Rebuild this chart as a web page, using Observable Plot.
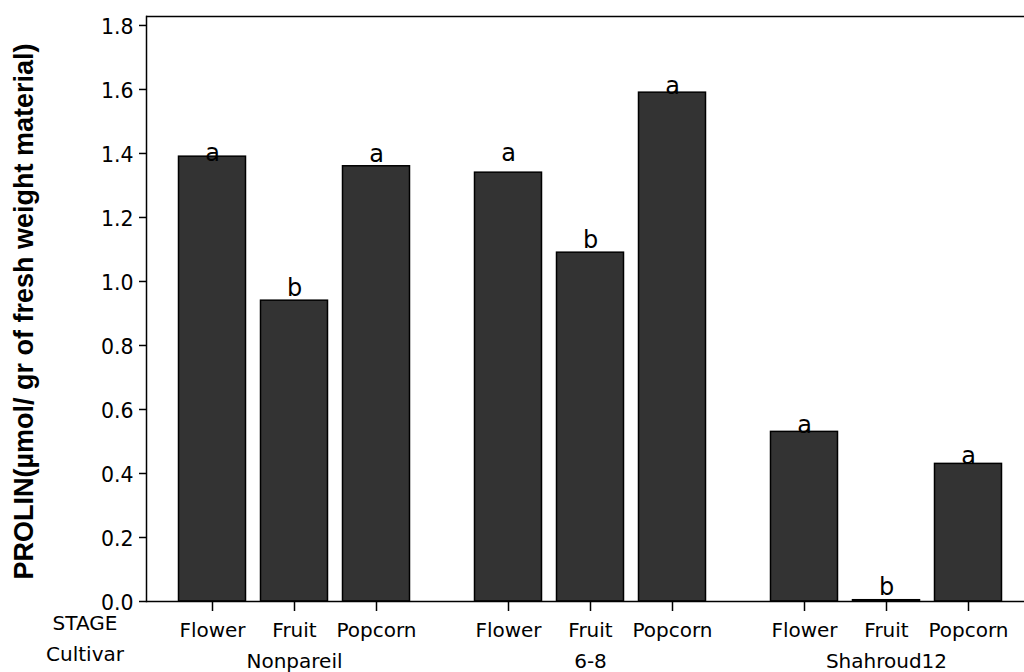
<!DOCTYPE html>
<html><head><meta charset="utf-8">
<script src="https://cdn.jsdelivr.net/npm/d3@7"></script>
<script src="https://cdn.jsdelivr.net/npm/@observablehq/plot@0.6"></script>
<style>body{margin:0;background:#fff;overflow:hidden}</style>
</head><body><div id="chart"></div>
<script>
const cultivars = ["Nonpareil", "6-8", "Shahroud12"];
const stages = ["Flower", "Fruit", "Popcorn"];
const proline = [[1.39, 0.94, 1.36], [1.34, 1.09, 1.59], [0.53, 0.004, 0.43]];
const letters = [["a", "b", "a"], ["a", "b", "a"], ["a", "b", "a"]];
const letterY = [[1.377, 0.954, 1.373], [1.376, 1.105, 1.587], [0.525, 0.019, 0.431]];
const yTicks = [0, 0.2, 0.4, 0.6, 0.8, 1.0, 1.2, 1.4, 1.6, 1.8];
const yMax = 1.828;
const rowLabels = ["STAGE", "Cultivar"];
const yLabel = "PROLIN(µmol/ gr of fresh weight material)";

const data = cultivars.flatMap((c, i) => stages.map((s, j) => ({
  cultivar: c, stage: s, value: proline[i][j], letter: letters[i][j], ly: letterY[i][j]
})));

const first = () => cultivars[0];
const font = "DejaVu Sans, Verdana, sans-serif";
const chart = Plot.plot({
  width: 1024, height: 672,
  marginLeft: 145.5, marginRight: -10.5, marginTop: 16, marginBottom: 71,
  style: {fontFamily: font, fontSize: "20px", color: "#000", background: "#fff"},
  fx: {domain: cultivars, padding: 0},
  x: {domain: stages, paddingInner: 0.186, paddingOuter: 0.394},
  y: {domain: [0, yMax]},
  marks: [
    Plot.barY(data, {fx: "cultivar", x: "stage", y: "value", fill: "#333333", stroke: "#000", strokeWidth: 1.5}),
    Plot.text(data, {fx: "cultivar", x: "stage", y: "ly", text: "letter", fontSize: 24, dy: -7.7, fill: "#000"}),
    Plot.ruleY([0], {stroke: "#000", strokeWidth: 1.5}),
    Plot.ruleY([yMax], {stroke: "#000", strokeWidth: 1.5}),
    Plot.frame({anchor: "left", fx: first, stroke: "#000", strokeWidth: 1.5}),
    Plot.axisY({ticks: yTicks, tickSize: 7, tickFormat: () => "", label: null, strokeWidth: 1.5, strokeOpacity: 1}),
    Plot.axisY({ticks: yTicks, tickSize: 0, tickPadding: 13, dy: 2, tickFormat: d3.format(".1f"), fontSize: 20.5, label: null}),
    Plot.axisX({tickSize: 10, tickPadding: 11, fontSize: 20, label: null, strokeWidth: 1.5, strokeOpacity: 1}),
    Plot.axisFx({anchor: "bottom", tickSize: 0, tickPadding: 52, fontSize: 20, label: null}),
    Plot.text([rowLabels[0]], {fx: first, frameAnchor: "bottom-left", textAnchor: "middle", dx: -61.5, dy: 28.6, fontSize: 20}),
    Plot.text([rowLabels[1]], {fx: first, frameAnchor: "bottom-left", textAnchor: "middle", dx: -61.5, dy: 59.6, fontSize: 20}),
    Plot.text([yLabel], {fx: first, frameAnchor: "left", textAnchor: "middle", rotate: -90, dx: -122.5, dy: 2.5,
      fontSize: 27, fontWeight: "bold", fontFamily: "Liberation Sans, Arial, sans-serif"})
  ]
});
document.getElementById("chart").appendChild(chart);
</script>
</body></html>
